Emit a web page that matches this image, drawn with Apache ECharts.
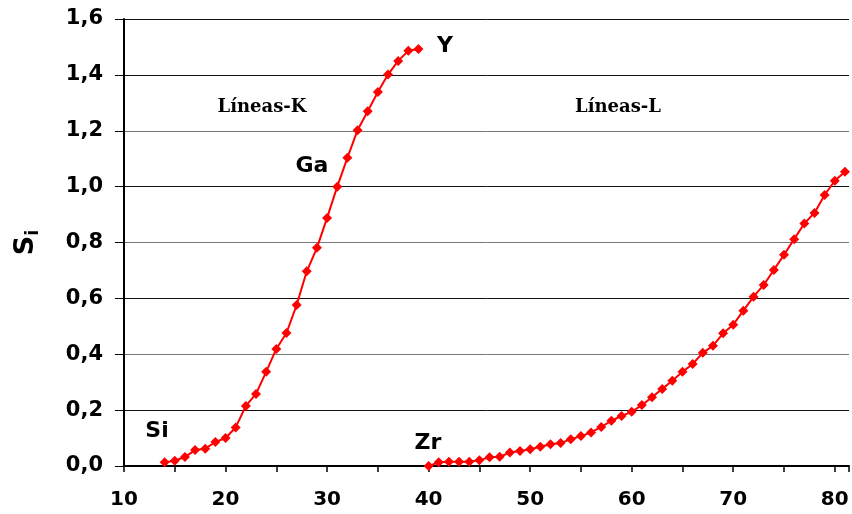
<!DOCTYPE html>
<html>
<head>
<meta charset="utf-8">
<script src="https://cdn.jsdelivr.net/npm/echarts@6/dist/echarts.min.js"></script>
<style>
  html, body { margin: 0; padding: 0; background: #fff; }
  #main { width: 852px; height: 514px; }
</style>
</head>
<body>
<div id="main"></div>
<script>
// K lines, Z = 14 (Si) .. 39 (Y)
var kZ = [14, 15, 16, 17, 18, 19, 20, 21, 22, 23, 24, 25, 26, 27, 28, 29, 30, 31, 32, 33, 34, 35, 36, 37, 38, 39];
var kS = [0.013, 0.019, 0.032, 0.057, 0.062, 0.086, 0.10, 0.138, 0.215, 0.258, 0.337, 0.419, 0.476, 0.576, 0.697,
  0.781, 0.888, 1.0, 1.103, 1.202, 1.27, 1.339, 1.401, 1.45, 1.486, 1.493];

// L lines, Z = 40 (Zr) .. 81
var lZ = [40, 41, 42, 43, 44, 45, 46, 47, 48, 49, 50, 51, 52, 53, 54, 55, 56, 57, 58, 59, 60,
  61, 62, 63, 64, 65, 66, 67, 68, 69, 70, 71, 72, 73, 74, 75, 76, 77, 78, 79, 80, 81];
var lS = [0.0, 0.013, 0.015, 0.015, 0.015, 0.021, 0.031, 0.033, 0.048, 0.054, 0.06, 0.069, 0.078, 0.082, 0.096,
  0.107, 0.12, 0.14, 0.162, 0.179, 0.194, 0.218, 0.246, 0.276, 0.305, 0.337, 0.365, 0.405, 0.43, 0.475, 0.506,
  0.556, 0.606, 0.648, 0.702, 0.756, 0.812, 0.868, 0.906, 0.97, 1.021, 1.053];

var chart = echarts.init(document.getElementById('main'));

function pairs(xs, ys) {
  return xs.map(function (x, i) { return [x, ys[i]]; });
}

var sans = '"DejaVu Sans", Verdana, sans-serif';
var lineStyle = { color: '#ff0000', width: 2 };
var itemStyle = { color: '#ff0000' };
var bold = 'bold 22px ' + sans;
var serif = 'bold 18px "DejaVu Serif", Georgia, serif';

function note(text, x, y, font) {
  return {
    type: 'text', x: x, y: y,
    style: { text: text, font: font, fill: '#000', textAlign: 'center', textVerticalAlign: 'middle' }
  };
}

chart.setOption({
  animation: false,
  grid: { left: 124, right: 0, top: 19, bottom: 48 },
  xAxis: {
    type: 'value',
    min: 10,
    max: 81.4,
    interval: 5,
    axisLine: { lineStyle: { color: '#000', width: 2 } },
    axisTick: { length: 6, lineStyle: { color: '#000', width: 1.5 } },
    axisLabel: {
      color: '#000',
      fontFamily: sans,
      fontWeight: 'bold',
      fontSize: 20,
      margin: 24,
      formatter: function (v) { return v % 10 === 0 ? String(v) : ''; }
    },
    splitLine: { show: false }
  },
  yAxis: {
    type: 'value',
    min: 0,
    max: 1.6,
    interval: 0.2,
    name: '{s|S}{sub|i}',
    nameLocation: 'middle',
    nameRotate: 90,
    nameGap: 82,
    nameTextStyle: {
      rich: {
        s: { fontSize: 27, fontWeight: 'bold', fontFamily: sans, color: '#000', lineHeight: 32 },
        sub: { fontSize: 17, fontWeight: 'bold', fontFamily: sans, color: '#000', lineHeight: 17, verticalAlign: 'bottom' }
      }
    },
    axisLine: { show: true, lineStyle: { color: '#000', width: 2 } },
    axisTick: { show: true, inside: false, length: 9, lineStyle: { color: '#000', width: 1 } },
    axisLabel: {
      color: '#000',
      fontFamily: sans,
      fontWeight: 'bold',
      fontSize: 21,
      margin: 21,
      formatter: function (v) { return v.toFixed(1).replace('.', ','); }
    },
    splitLine: {
      show: true,
      lineStyle: { color: ['#000', '#111', '#777', '#111', '#777', '#111', '#777', '#111', '#111'], width: 1 }
    }
  },
  graphic: [
    note('Si', 157, 431, bold),
    note('Ga', 312, 166, bold),
    note('Y', 445, 46, bold),
    note('Zr', 428, 443, bold),
    note('Líneas-K', 262, 107, serif),
    note('Líneas-L', 618, 107, serif)
  ],
  series: [
    {
      name: 'K',
      type: 'line',
      data: pairs(kZ, kS),
      symbol: 'diamond',
      symbolSize: 10,
      showAllSymbol: true,
      lineStyle: lineStyle,
      itemStyle: itemStyle
    },
    {
      name: 'L',
      type: 'line',
      data: pairs(lZ, lS),
      symbol: 'diamond',
      symbolSize: 10,
      showAllSymbol: true,
      lineStyle: lineStyle,
      itemStyle: itemStyle
    }
  ]
});
</script>
</body>
</html>
